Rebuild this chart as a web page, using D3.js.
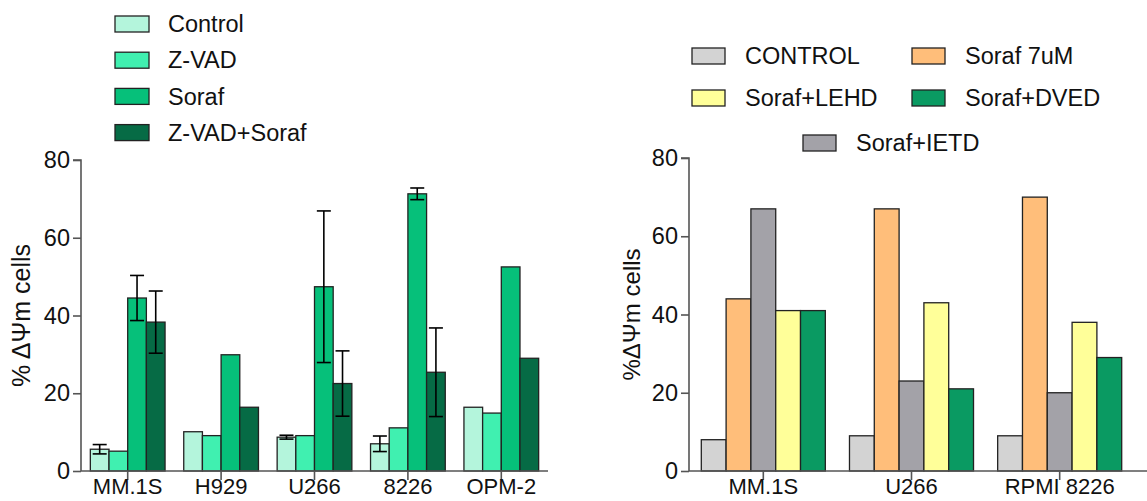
<!DOCTYPE html>
<html>
<head>
<meta charset="utf-8">
<script src="https://cdn.jsdelivr.net/npm/d3@7"></script>
<style>
  body { margin: 0; background: #fff; }
  text { font-family: "Liberation Sans", Arial, sans-serif; fill: #111; }
</style>
</head>
<body>
<div class="canvas"></div>
<script>
// left panel data
const cellLinesA = ['MM.1S', 'H929', 'U266', '8226', 'OPM-2'];
const seriesA = ['Control', 'Z-VAD', 'Soraf', 'Z-VAD+Soraf'];
const colorsA = ['#b4f5dc', '#40f0b0', '#06c07a', '#066b45'];
const controlA = [5.6, 10.1, 8.7, 7.0, 16.4];
const zvadA = [5.1, 9.1, 9.1, 11.1, 14.9];
const sorafA = [44.5, 29.9, 47.4, 71.3, 52.5];
const zvadSorafA = [38.3, 16.4, 22.5, 25.4, 29.0];
// error (+/-), null = none drawn
const controlErr = [1.2, null, 0.5, 2.0, null];
const zvadErr = [null, null, null, null, null];
const sorafErr = [5.8, null, 19.5, 1.5, null];
const zvadSorafErr = [8.0, null, 8.4, 11.4, null];

// right panel data
const cellLinesB = ['MM.1S', 'U266', 'RPMI 8226'];
const seriesB = ['CONTROL', 'Soraf 7uM', 'Soraf+IETD', 'Soraf+LEHD', 'Soraf+DVED'];
const colorsB = ['#d3d3d3', '#ffbe7a', '#a3a2a8', '#ffff99', '#0a9a62'];
const controlB = [8, 9, 9];
const soraf7B = [44, 67, 70];
const ietdB = [67, 23, 20];
const lehdB = [41, 43, 38];
const dvedB = [41, 21, 29];
const yTicks = [0, 20, 40, 60, 80];

const svg = d3.select('.canvas').append('svg')
  .attr('width', 1147)
  .attr('height', 501);

const axisColor = '#555';

// draw one panel of grouped bars
const drawPanel = function(opt) {
  const y = d3.scaleLinear().domain([0, 80]).range([opt.y0, opt.y80]);
  const x0 = d3.scaleBand().domain(opt.cats).range(opt.xRange)
    .paddingInner(opt.padIn).paddingOuter(opt.padOut);
  const x1 = d3.scaleBand().domain(opt.series).range([0, x0.bandwidth()]);

  const g = svg.append('g');

  // bars
  opt.series.forEach((s, si) => {
    g.selectAll('.bar-' + si)
      .data(opt.values[si])
      .enter()
      .append('rect')
        .attr('x', (d, i) => x0(opt.cats[i]) + x1(s))
        .attr('y', d => y(d))
        .attr('width', x1.bandwidth())
        .attr('height', d => y(0) - y(d))
        .attr('fill', opt.colors[si])
        .attr('stroke', '#222')
        .attr('stroke-width', 1.3);
  });

  // error bars
  if (opt.errs) {
    opt.series.forEach((s, si) => {
      opt.errs[si].forEach((e, i) => {
        if (e == null) return;
        const cx = x0(opt.cats[i]) + x1(s) + x1.bandwidth() / 2;
        const v = opt.values[si][i];
        const eg = g.append('g')
          .attr('stroke', '#000')
          .attr('stroke-width', 1.6);
        eg.append('line').attr('x1', cx).attr('x2', cx)
          .attr('y1', y(v - e)).attr('y2', y(v + e));
        [v - e, v + e].forEach(t => {
          eg.append('line').attr('x1', cx - 7).attr('x2', cx + 7)
            .attr('y1', y(t)).attr('y2', y(t));
        });
      });
    });
  }

  // axes
  const yAxis = d3.axisLeft(y).tickValues(yTicks).tickSizeOuter(0).tickSize(8).tickPadding(3);
  const yg = g.append('g')
    .attr('transform', `translate(${opt.xAxisStart},0)`)
    .call(yAxis);
  yg.select('.domain').attr('d', `M0,${opt.y0}V${opt.y80}H-8`);

  const xAxis = d3.axisBottom(x0).tickSizeOuter(0).tickSize(9).tickPadding(-2);
  const xg = g.append('g')
    .attr('transform', `translate(0,${opt.y0})`)
    .call(xAxis);
  xg.select('.domain').attr('d', `M${opt.xAxisStart},0H${opt.xAxisEnd}`);

  [yg, xg].forEach(a => {
    a.selectAll('.domain, line').attr('stroke', axisColor).attr('stroke-width', 1.6);
    a.selectAll('text').attr('fill', '#111');
  });
  yg.selectAll('text').style('font-size', '23.5px');
  xg.selectAll('text').style('font-size', '22px');

  // y label
  g.append('text')
    .attr('transform', `translate(${opt.labelX},${(opt.y0 + opt.y80) / 2}) rotate(-90)`)
    .attr('text-anchor', 'middle')
    .style('font-size', opt.labelSize)
    .text(opt.yLabel);
};

drawPanel({
  cats: cellLinesA, series: seriesA, colors: colorsA,
  values: [controlA, zvadA, sorafA, zvadSorafA],
  errs: [controlErr, zvadErr, sorafErr, zvadSorafErr],
  y0: 471, y80: 160, xRange: [81, 548], padIn: 0.2, padOut: 0.1,
  xAxisStart: 81, xAxisEnd: 548, labelX: 30, labelSize: '25px', yLabel: '% \u0394\u03A8m cells'
});

drawPanel({
  cats: cellLinesB, series: seriesB, colors: colorsB,
  values: [controlB, soraf7B, ietdB, lehdB, dvedB],
  y0: 471, y80: 158, xRange: [689, 1134], padIn: 0.163, padOut: 0.083,
  xAxisStart: 689, xAxisEnd: 1147, labelX: 640, labelSize: '24px', yLabel: '%\u0394\u03A8m cells'
});

// legends
const legA = svg.append('g');
seriesA.forEach((s, i) => {
  const row = legA.append('g').attr('transform', `translate(115,${24 + i * 36.2})`);
  row.append('rect').attr('x', 0).attr('y', -8).attr('width', 34).attr('height', 16)
    .attr('fill', colorsA[i]).attr('stroke', '#222').attr('stroke-width', 1.3);
  row.append('text').attr('x', 53).attr('y', 0).attr('dy', '0.35em')
    .style('font-size', '23.5px').text(s);
});

const legPosB = [[692, 56], [912, 56], [803, 143], [692, 98], [912, 98]];
const legB = svg.append('g');
seriesB.forEach((s, i) => {
  const row = legB.append('g').attr('transform', `translate(${legPosB[i][0]},${legPosB[i][1]})`);
  row.append('rect').attr('x', 0).attr('y', -8).attr('width', 33).attr('height', 16)
    .attr('fill', colorsB[i]).attr('stroke', '#222').attr('stroke-width', 1.3);
  row.append('text').attr('x', 53).attr('y', 0).attr('dy', '0.35em')
    .style('font-size', '23.5px').text(s);
});
</script>
</body>
</html>
